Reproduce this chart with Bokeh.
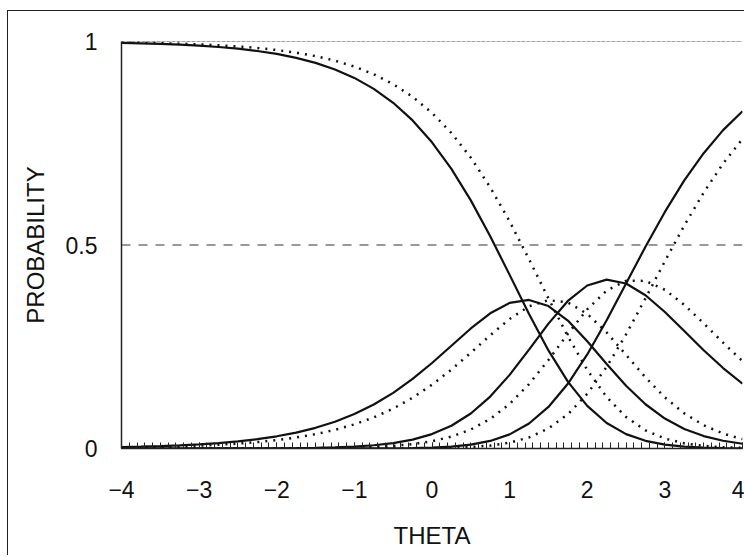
from bokeh.plotting import figure
from bokeh.models import Range1d, Span, SingleIntervalTicker, FixedTicker
from bokeh.embed import file_html
from bokeh.resources import INLINE

# ability grid (THETA)
theta = [-4.0, -3.75, -3.5, -3.25, -3.0, -2.75, -2.5, -2.25, -2.0, -1.75, -1.5, -1.25,
         -1.0, -0.75, -0.5, -0.25, 0.0, 0.25, 0.5, 0.75, 1.0, 1.25, 1.5, 1.75,
         2.0, 2.25, 2.5, 2.75, 3.0, 3.25, 3.5, 3.75, 4.0]

# solid curves (categories 0..3)
solid_c0 = [0.9966, 0.9955, 0.9941, 0.9922, 0.9897, 0.9865, 0.9823, 0.9767, 0.9695, 0.9599, 0.9475, 0.9314,
            0.9106, 0.8837, 0.8494, 0.8061, 0.7523, 0.6869, 0.6096, 0.5216, 0.4266, 0.3306, 0.2409, 0.1642,
            0.1047, 0.0626, 0.0353, 0.0189, 0.0097, 0.0048, 0.0023, 0.0011, 0.0005]
solid_c1 = [0.0034, 0.0045, 0.0059, 0.0078, 0.0102, 0.0134, 0.0175, 0.0230, 0.0300, 0.0391, 0.0508, 0.0657,
            0.0846, 0.1081, 0.1368, 0.1710, 0.2101, 0.2524, 0.2949, 0.3322, 0.3578, 0.3650, 0.3501, 0.3143,
            0.2637, 0.2075, 0.1540, 0.1087, 0.0735, 0.0480, 0.0305, 0.0190, 0.0116]
solid_c2 = [0.0000, 0.0000, 0.0000, 0.0000, 0.0001, 0.0001, 0.0002, 0.0003, 0.0006, 0.0010, 0.0016, 0.0028,
            0.0047, 0.0080, 0.0133, 0.0218, 0.0354, 0.0559, 0.0860, 0.1276, 0.1809, 0.2430, 0.3068, 0.3626,
            0.4005, 0.4149, 0.4054, 0.3766, 0.3354, 0.2886, 0.2415, 0.1977, 0.1592]
solid_c3 = [0.0000, 0.0000, 0.0000, 0.0000, 0.0000, 0.0000, 0.0000, 0.0000, 0.0000, 0.0000, 0.0000, 0.0000,
            0.0001, 0.0002, 0.0005, 0.0011, 0.0023, 0.0047, 0.0095, 0.0186, 0.0347, 0.0614, 0.1021, 0.1589,
            0.2311, 0.3151, 0.4054, 0.4958, 0.5813, 0.6586, 0.7256, 0.7822, 0.8287]

# dotted curves (categories 0..3)
dotted_c0 = [0.9977, 0.9969, 0.9960, 0.9947, 0.9930, 0.9908, 0.9879, 0.9841, 0.9791, 0.9726, 0.9641, 0.9529,
             0.9384, 0.9195, 0.8952, 0.8641, 0.8246, 0.7752, 0.7146, 0.6419, 0.5579, 0.4651, 0.3687, 0.2756,
             0.1930, 0.1263, 0.0774, 0.0446, 0.0244, 0.0127, 0.0064, 0.0031, 0.0015]
dotted_c1 = [0.0023, 0.0031, 0.0040, 0.0053, 0.0070, 0.0091, 0.0120, 0.0157, 0.0206, 0.0270, 0.0352, 0.0458,
             0.0593, 0.0765, 0.0981, 0.1247, 0.1567, 0.1939, 0.2352, 0.2782, 0.3183, 0.3494, 0.3646, 0.3588,
             0.3308, 0.2851, 0.2301, 0.1746, 0.1256, 0.0863, 0.0572, 0.0367, 0.0230]
dotted_c2 = [0.0000, 0.0000, 0.0000, 0.0000, 0.0000, 0.0001, 0.0001, 0.0002, 0.0003, 0.0005, 0.0008, 0.0013,
             0.0023, 0.0038, 0.0065, 0.0108, 0.0179, 0.0292, 0.0467, 0.0727, 0.1095, 0.1583, 0.2174, 0.2817,
             0.3419, 0.3880, 0.4121, 0.4118, 0.3900, 0.3530, 0.3076, 0.2601, 0.2147]
dotted_c3 = [0.0000, 0.0000, 0.0000, 0.0000, 0.0000, 0.0000, 0.0000, 0.0000, 0.0000, 0.0000, 0.0000, 0.0000,
             0.0000, 0.0001, 0.0002, 0.0004, 0.0008, 0.0017, 0.0035, 0.0072, 0.0143, 0.0272, 0.0493, 0.0840,
             0.1342, 0.2005, 0.2804, 0.3689, 0.4600, 0.5479, 0.6288, 0.7001, 0.7607]

x_ticks = [-4, -3, -2, -1, 0, 1, 2, 3, 4]
x_tick_labels = ["\u22124", "\u22123", "\u22122", "\u22121", "0", "1", "2", "3", "4"]
y_ticks = [0, 0.5, 1]
y_tick_labels = ["0", "0.5", "1"]

FONT = "Liberation Sans"

p = figure(width=737, height=545, x_range=Range1d(-4, 4), y_range=Range1d(0, 1),
           output_backend="svg", toolbar_location=None,
           min_border_left=113, min_border_right=3, min_border_top=30, min_border_bottom=108)
p.styles = {"margin-left": "7px", "margin-top": "10px",
            "border-left": "1px solid #222", "border-top": "1px solid #222"}

p.outline_line_color = None
p.xgrid.visible = False
p.ygrid.visible = False

# reference lines
p.add_layout(Span(location=1, dimension="width", line_color="#444444", line_width=1, line_dash="4 1"))
p.add_layout(Span(location=0.5, dimension="width", line_color="#333333", line_width=1.2, line_dash="9 8"))

for ys in (solid_c0, solid_c1, solid_c2, solid_c3):
    p.line(theta, ys, line_color="#111111", line_width=2.2)
for ys in (dotted_c0, dotted_c1, dotted_c2, dotted_c3):
    p.line(theta, ys, line_color="#111111", line_width=2.5, line_dash="2 6")

# axes
xa = p.xaxis[0]
xa.ticker = SingleIntervalTicker(interval=1, num_minor_ticks=10)
xa.major_label_overrides = {t: s for t, s in zip(x_ticks, x_tick_labels)}
xa.major_tick_in = 6
xa.major_tick_out = 0
xa.minor_tick_in = 6
xa.minor_tick_out = 0
xa.major_tick_line_color = "#222222"
xa.minor_tick_line_color = "#222222"
xa.axis_line_color = "#222222"
xa.axis_line_width = 1.5
xa.major_label_standoff = 32
xa.major_label_text_font = FONT
xa.major_label_text_font_size = "23px"
xa.major_label_text_color = "#111111"
xa.axis_label = "THETA"
xa.axis_label_text_font = FONT
xa.axis_label_text_font_size = "24px"
xa.axis_label_text_font_style = "normal"
xa.axis_label_text_color = "#111111"
xa.axis_label_standoff = 21

ya = p.yaxis[0]
ya.ticker = FixedTicker(ticks=y_ticks)
ya.major_label_overrides = {t: s for t, s in zip(y_ticks, y_tick_labels)}
ya.major_tick_in = 0
ya.major_tick_out = 0
ya.minor_tick_line_color = None
ya.axis_line_color = "#222222"
ya.axis_line_width = 1.5
ya.major_label_standoff = 24
ya.major_label_text_font = FONT
ya.major_label_text_font_size = "23px"
ya.major_label_text_color = "#111111"
ya.axis_label = "PROBABILITY"
ya.axis_label_text_font = FONT
ya.axis_label_text_font_size = "24px"
ya.axis_label_text_font_style = "normal"
ya.axis_label_text_color = "#111111"
ya.axis_label_standoff = 14

open("out.html", "w").write(file_html(p, INLINE))
